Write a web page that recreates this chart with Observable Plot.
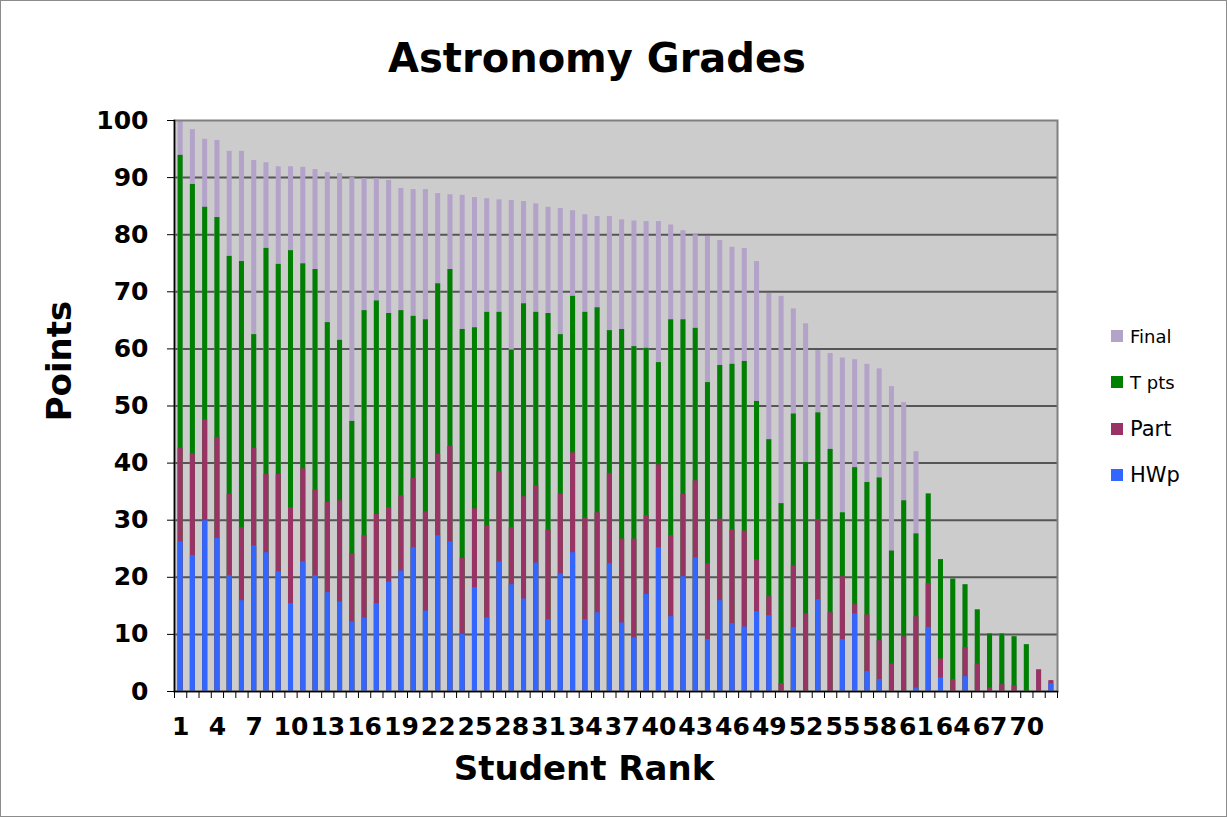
<!DOCTYPE html>
<html>
<head>
<meta charset="utf-8">
<script src="https://cdn.jsdelivr.net/npm/d3@7"></script>
<script src="https://cdn.jsdelivr.net/npm/@observablehq/plot@0.6"></script>
<style>
  body { margin: 0; background: #fff; }
  #wrap { position: relative; width: 1227px; height: 817px; overflow: hidden; background: #fff;
          font-family: "DejaVu Sans", Verdana, sans-serif; }
  #border { position: absolute; left: 0; top: 0; width: 1227px; height: 817px; box-sizing: border-box;
            border: 1px solid #8c8c8c; pointer-events: none; }
  #title { position: absolute; left: 0; top: 35px; width: 1194px; height: 46px; line-height: 46px;
           text-align: center; font-weight: bold; font-size: 40px; color: #000; }
  #chart { position: absolute; left: 0; top: 95px; }
  .item { position: absolute; left: 1111px; height: 30px; display: flex; align-items: center; color: #000; }
  .sw { width: 12px; height: 12px; margin-right: 7px; flex: none; }
</style>
</head>
<body>
<div id="wrap">
  <div id="title">Astronomy Grades</div>
  <div id="chart"></div>
  <div id="legend"></div>
  <div id="border"></div>
</div>
<script>
// ---- data ----
const students = [1,2,3,4,5,6,7,8,9,10,11,12,13,14,15,16,17,18,19,20,21,22,23,24,25,26,27,28,29,30,
  31,32,33,34,35,36,37,38,39,40,41,42,43,44,45,46,47,48,49,50,51,52,53,54,55,56,57,58,59,60,
  61,62,63,64,65,66,67,68,69,70,71,72];
const xTickLabels = [1,4,7,10,13,16,19,22,25,28,31,34,37,40,43,46,49,52,55,58,61,64,67,70];
const yTicks = [0,10,20,30,40,50,60,70,80,90,100];

const final = [100, 98.4, 96.7, 96.5, 94.6, 94.6, 93.0, 92.6, 91.9, 91.9,
  91.8, 91.4, 90.9, 90.7, 90.0, 89.8, 89.8, 89.5, 88.1, 87.9,
  87.9, 87.2, 87.0, 86.9, 86.5, 86.3, 86.1, 86.0, 85.8, 85.4,
  84.8, 84.6, 84.2, 83.5, 83.2, 83.2, 82.6, 82.4, 82.3, 82.3,
  81.7, 80.7, 80.0, 79.7, 79.0, 77.8, 77.6, 75.3, 69.7, 69.2,
  67.0, 64.4, 59.7, 59.2, 58.4, 58.1, 57.3, 56.5, 53.4, 50.6,
  42.0, 34.6, 23.1, 19.7, 18.7, 14.3, 10.1, 10.1, 9.6, 8.2, 3.8, 1.9];
const tpts = [93.9, 88.8, 84.8, 83.0, 76.2, 75.3, 62.5, 77.6, 74.8, 77.2,
  74.9, 73.9, 64.6, 61.5, 47.3, 66.7, 68.4, 66.2, 66.7, 65.7,
  65.1, 71.4, 73.9, 63.4, 63.7, 66.4, 66.4, 59.8, 67.9, 66.4,
  66.2, 62.5, 69.2, 66.4, 67.2, 63.2, 63.4, 60.4, 60.1, 57.6,
  65.1, 65.1, 63.6, 54.1, 57.1, 57.3, 57.8, 50.8, 44.1, 32.9,
  48.6, 40.1, 48.8, 42.4, 31.3, 39.2, 36.6, 37.4, 24.6, 33.4,
  27.6, 34.6, 23.1, 19.7, 18.7, 14.3, 10.1, 10.1, 9.6, 8.2, 0, 0];
const part = [42.6, 41.6, 47.6, 44.5, 34.5, 28.7, 42.6, 38.0, 38.0, 32.2,
  39.0, 35.3, 33.1, 33.4, 24.1, 27.3, 31.0, 32.2, 34.3, 37.3,
  31.5, 41.5, 42.9, 23.3, 32.0, 29.0, 38.5, 28.7, 34.1, 36.0,
  28.3, 34.6, 41.8, 30.4, 31.3, 38.2, 26.7, 26.7, 30.8, 39.7,
  27.3, 34.5, 36.9, 22.4, 30.2, 28.3, 28.1, 23.1, 16.6, 1.4,
  22.0, 13.6, 30.1, 13.8, 20.1, 15.2, 13.4, 8.9, 4.8, 9.6,
  13.1, 18.9, 5.7, 2.1, 7.7, 4.8, 0.6, 1.2, 1.0, 0, 3.8, 1.9];
const hwp = [26.2, 23.8, 29.9, 26.8, 20.3, 15.9, 25.5, 24.3, 21.0, 15.4,
  22.7, 20.3, 17.3, 15.7, 12.2, 12.9, 15.4, 19.2, 21.1, 25.2,
  14.1, 27.3, 26.2, 10.0, 18.2, 12.9, 22.7, 18.7, 16.2, 22.5,
  12.6, 20.6, 24.3, 12.6, 13.8, 22.4, 12.0, 9.4, 17.0, 25.2,
  13.1, 20.1, 23.4, 9.1, 15.9, 11.9, 11.3, 14.0, 13.3, 0,
  11.2, 0, 16.1, 0, 9.1, 13.6, 3.5, 2.1, 0, 0,
  0.6, 11.2, 2.4, 0, 2.6, 0, 0, 0, 0, 0, 0, 1.4];

const seriesNames = ["Final", "T pts", "Part", "HWp"];
const seriesColors = ["#b4a3c9", "#008000", "#993366", "#3366ff"];
const legendFontSizes = [18, 18, 21, 21];
const legendCenters = [336, 382, 429, 475];

// ---- table for the library ----
const seriesValues = [final, tpts, part, hwp];
const data = students.map((s, i) => {
  const row = {student: s};
  seriesNames.forEach((n, k) => row[n] = seriesValues[k][i]);
  return row;
});

// ---- chart ----
const W = 1227, H = 722, mL = 174, mR = 170, mT = 25, mB = 126;
const step = (W - mL - mR) / students.length;
const font = '"DejaVu Sans", Verdana, sans-serif';

const chart = Plot.plot({
  width: W, height: H,
  marginTop: mT, marginBottom: mB, marginLeft: mL, marginRight: mR,
  style: {fontFamily: font, background: "white", overflow: "visible"},
  x: {type: "band", domain: students, paddingInner: 0.59, paddingOuter: 0.295, round: false},
  y: {domain: [0, 100]},
  marks: [
    Plot.frame({fill: "#cccccc", stroke: "none"}),
    Plot.gridY(yTicks.filter(d => d > 0 && d < 100), {stroke: "#555555", strokeOpacity: 1, strokeWidth: 2}),
    ...seriesNames.map((n, k) => Plot.barY(data, {x: "student", y: n, fill: seriesColors[k]})),
    Plot.frame({stroke: "#808080", strokeWidth: 2}),
    Plot.frame({anchor: "left", stroke: "#000", strokeWidth: 1.5}),
    Plot.frame({anchor: "bottom", stroke: "#000", strokeWidth: 1.5}),
    Plot.axisY({ticks: yTicks, tickSize: 7, tickPadding: 19, fontSize: 25, fontWeight: "bold", label: null}),
    Plot.axisX({ticks: students, tickSize: 7, dx: -step / 2, fill: "none", label: null}),
    Plot.axisX({ticks: [students[students.length - 1]], tickSize: 7, dx: step / 2, fill: "none", label: null}),
    Plot.axisX({ticks: xTickLabels, tickSize: 0, tickPadding: 26, fontSize: 25, fontWeight: "bold", label: null}),
    Plot.text(["Points"], {text: d => d, frameAnchor: "left", dx: -114, dy: -45, rotate: -90,
      fontSize: 34, fontWeight: "bold", textAnchor: "middle", lineAnchor: "middle", fill: "#000"}),
    Plot.text(["Student Rank"], {text: d => d, frameAnchor: "bottom", dx: -32, dy: 64,
      fontSize: 34, fontWeight: "bold", textAnchor: "middle", lineAnchor: "top", fill: "#000"})
  ]
});
document.getElementById("chart").appendChild(chart);

// ---- legend ----
const legend = document.getElementById("legend");
seriesNames.forEach((n, k) => {
  const item = document.createElement("div");
  item.className = "item";
  item.style.top = (legendCenters[k] - 15) + "px";
  item.style.fontSize = legendFontSizes[k] + "px";
  const sw = document.createElement("span");
  sw.className = "sw";
  sw.style.background = seriesColors[k];
  const tx = document.createElement("span");
  tx.textContent = n;
  item.appendChild(sw);
  item.appendChild(tx);
  legend.appendChild(item);
});
</script>
</body>
</html>
